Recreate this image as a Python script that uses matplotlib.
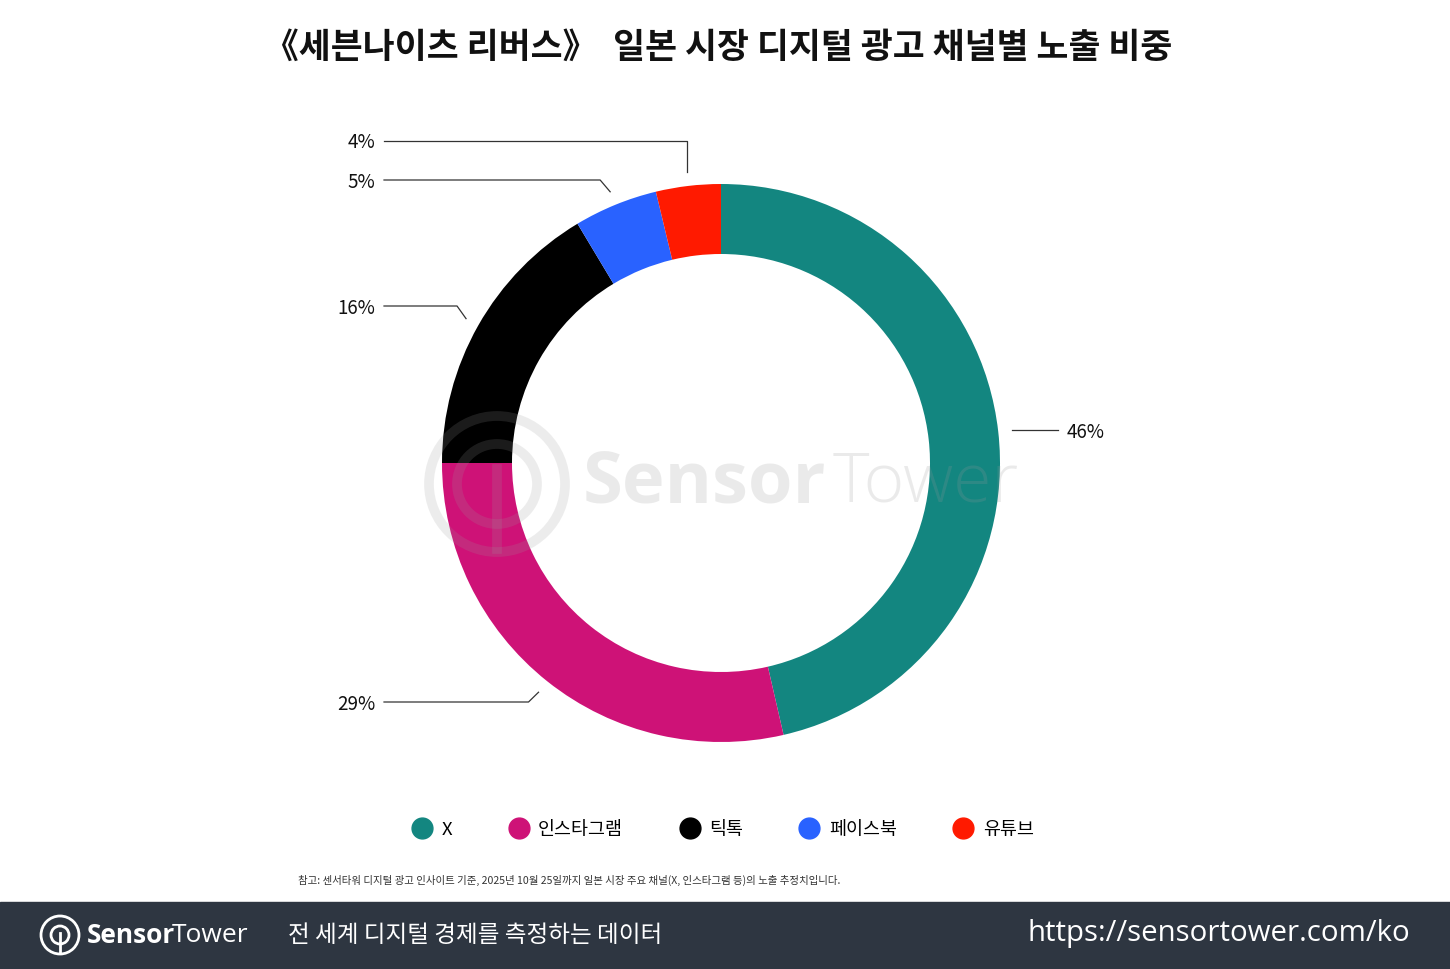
import numpy as np
import matplotlib
matplotlib.use("Agg")
import matplotlib.pyplot as plt
from matplotlib.patches import Circle, Rectangle
from matplotlib.lines import Line2D

plt.rcParams['font.family'] = ['Noto Sans CJK KR', 'DejaVu Sans']

channels = ['X', '인스타그램', '틱톡', '페이스북', '유튜브']
shares = [46.4, 28.6, 16.4, 4.85, 3.75]
pct_labels = ['46%', '29%', '16%', '5%', '4%']
colors = ['#138680', '#CE1277', '#000000', '#2962FF', '#FF1A00']

title = '《세븐나이츠 리버스》  일본 시장 디지털 광고 채널별 노출 비중'
note = '참고: 센서타워 디지털 광고 인사이트 기준, 2025년 10월 25일까지 일본 시장 주요 채널(X, 인스타그램 등)의 노출 추정치입니다.'
tagline = '전 세계 디지털 경제를 측정하는 데이터'
url = 'https://sensortower.com/ko'

W, H = 1450, 970
def Y(py):
    return H - py

fig = plt.figure(figsize=(14.5, 9.7), dpi=100)
ax = fig.add_axes([0, 0, 1, 1])

cx, cy = 721, Y(464)
R, ring = 279, 70
ax.pie(shares, colors=colors, radius=R, center=(cx, cy), startangle=90,
       counterclock=False, wedgeprops=dict(width=ring, linewidth=0))
ax.set_xlim(0, W)
ax.set_ylim(0, H)
ax.set_aspect('equal')
ax.axis('off')

# leader lines: label y (px) and elbow offset
label_y = [431, 703, 307, 181, 142]
elbow_dx = [None, 10, 9, 10, 0]
cum = np.cumsum([0] + shares)
for i, s in enumerate(shares):
    mid = (cum[i] + s / 2) / 100.0
    ang = np.deg2rad(90 - 360 * mid)
    px = cx + (R + 14) * np.cos(ang)
    py = cy + (R + 14) * np.sin(ang)
    ly = Y(label_y[i])
    if i == 0:
        ax.plot([px, px + 46], [ly, ly], color='#333333', lw=0.9)
        ax.text(px + 54, ly - 1, pct_labels[i], ha='left', va='center', fontsize=13.5, color='#111111')
    else:
        ex = px - elbow_dx[i]
        ax.plot([384, ex, px], [ly, ly, py], color='#333333', lw=0.9)
        ax.text(375, ly - 1, pct_labels[i], ha='right', va='center', fontsize=13.5, color='#111111')

# watermark
wm = '#9a9a9a'
ax.add_patch(Circle((497, Y(485)), 68, fill=False, lw=7, ec=wm, alpha=0.18, zorder=5))
ax.add_patch(Circle((497, Y(485)), 40, fill=False, lw=7, ec=wm, alpha=0.18, zorder=5))
ax.plot([497, 497], [Y(470), Y(550)], color=wm, lw=7, alpha=0.18, zorder=5)
ax.text(583, Y(484), 'Sensor', fontsize=52, fontweight='bold', color=wm, alpha=0.2,
        ha='left', va='center', family=['Open Sans', 'DejaVu Sans'], zorder=5)
ax.text(833, Y(484), 'Tower', fontsize=50, fontweight='light', color=wm, alpha=0.2,
        ha='left', va='center', family=['Open Sans', 'DejaVu Sans'], zorder=5)

# title
ax.text(718.5, Y(47), title, ha='center', va='center', fontsize=25, fontweight='black', color='#111111')

# legend
handles = [Line2D([], [], marker='o', ls='', markersize=15, markerfacecolor=c,
                  markeredgecolor=c) for c in colors]
fig.legend(handles, channels, loc='center', bbox_to_anchor=(721 / W, 1 - 830 / H), ncol=5,
           frameon=False, fontsize=13.3, columnspacing=2.85, handletextpad=0.3, handlelength=1.5)

# footnote
ax.text(298, Y(880), note, ha='left', va='center', fontsize=7.55, color='#333333')

# footer bar
ax.add_patch(Rectangle((0, 0), W, Y(903), color='#2E3641', zorder=1))
ax.add_patch(Circle((60, Y(936)), 19, fill=False, lw=2, ec='white', zorder=3))
ax.add_patch(Circle((60, Y(936)), 9, fill=False, lw=2, ec='white', zorder=3))
ax.plot([60, 60], [Y(934), Y(953)], color='white', lw=2, zorder=3)
ax.text(87, Y(936), 'Sensor', fontsize=19, fontweight='bold', color='white', ha='left', va='center',
        family=['Open Sans', 'DejaVu Sans'], zorder=3)
ax.text(172, Y(936), 'Tower', fontsize=19, color='white', ha='left', va='center',
        family=['Open Sans', 'DejaVu Sans'], zorder=3)
ax.text(288, Y(936), tagline, fontsize=17, color='white', ha='left', va='center', zorder=3)
ax.text(1410, Y(934), url, fontsize=21.2, color='white', ha='right', va='center',
        family=['Open Sans', 'DejaVu Sans'], zorder=3)

plt.savefig('out.png', dpi=100)
